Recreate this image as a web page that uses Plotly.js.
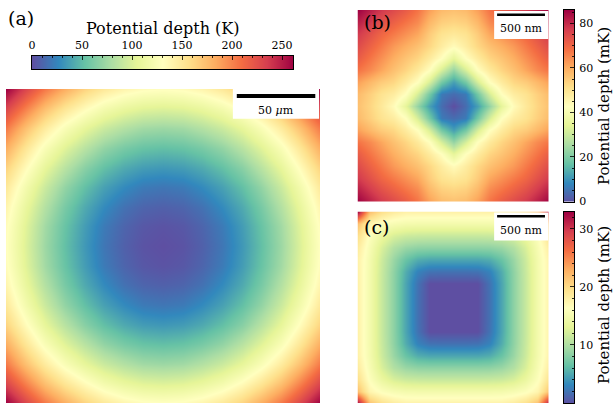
<!DOCTYPE html>
<html>
<head>
<meta charset="utf-8">
<script src="https://cdn.plot.ly/plotly-3.0.1.min.js"></script>
<style>
  html, body { margin: 0; padding: 0; background: #fff; }
  #chart { width: 614px; height: 407px; }
</style>
</head>
<body>
<div id="chart"></div>
<script>
// Sample positions along one half-axis (the rest follows by the fourfold symmetry)
const nodesA = [0, 12.5, 25, 37.5, 50, 62.5, 75, 87.5, 100];        // μm
const nodesBC = [0, 125, 250, 375, 500, 625, 750, 875, 1000];       // nm

// Potential depth on the quadrant nodes: rows = y node, columns = x node
const depthA = [            // K
  [0, 2, 8, 18, 33, 51, 73, 100, 131],
  [2, 4, 10, 20, 35, 53, 75, 102, 133],
  [8, 10, 16, 27, 41, 59, 82, 108, 139],
  [18, 20, 27, 37, 51, 69, 92, 118, 149],
  [33, 35, 41, 51, 65, 84, 106, 133, 163],
  [51, 53, 59, 69, 84, 102, 124, 151, 182],
  [73, 75, 82, 92, 106, 124, 147, 173, 204],
  [100, 102, 108, 118, 133, 151, 173, 200, 230],
  [131, 133, 139, 149, 163, 182, 204, 230, 261]
];
const depthB = [            // mK
  [0, 4.5, 12, 23, 35, 44, 49, 53.5, 57],
  [4.5, 6.5, 19, 32, 43, 48, 50.5, 54.5, 58],
  [12, 19, 32, 43, 48.5, 53, 55, 58.5, 62],
  [23, 32, 43, 49, 53.5, 57, 61, 65, 68],
  [35, 43, 48.5, 53.5, 56.5, 60, 64, 68, 72],
  [44, 48, 53, 57, 60, 63, 67, 71, 75],
  [49, 50.5, 55, 61, 64, 67, 70, 74, 78],
  [53.5, 54.5, 58.5, 65, 68, 71, 74, 78, 82],
  [57, 58, 62, 68, 72, 75, 78, 82, 86]
];
const depthC = [            // mK
  [0, 0, 0, 2, 5, 8.5, 11.5, 15, 18],
  [0, 0, 0, 2, 5, 8.5, 11.5, 15, 18],
  [0, 0, 0, 2.1, 5, 8.5, 11.5, 15, 18],
  [2, 2, 2.1, 3, 5.4, 8.6, 11.6, 15, 18],
  [5, 5, 5, 5.4, 6.8, 9.1, 11.8, 15.1, 18],
  [8.5, 8.5, 8.5, 8.6, 9.1, 10.3, 12.5, 15.5, 18.6],
  [11.5, 11.5, 11.5, 11.6, 11.8, 12.5, 14, 16.2, 19.8],
  [15, 15, 15, 15, 15.1, 15.5, 16.2, 17.6, 22],
  [18, 18, 18, 18, 18, 18.6, 19.8, 22, 33]
];

// Colour-bar ticks
const ticksA = { major: 50, minor: 10 };
const ticksB = { major: 20, minor: 5 };
const ticksC = { major: 10, minor: 2 };

// Scale bars
const scaleA = { length: 50, label: '50 <i>μ</i>m' };
const scaleBC = { length: 500, label: '500 nm' };

// Spectral colormap, reversed (low = violet, high = crimson)
const spectralR = [
  [0.0, '#5e4fa2'], [0.1, '#3288bd'], [0.2, '#66c2a5'], [0.3, '#abdda4'],
  [0.4, '#e6f598'], [0.5, '#ffffbf'], [0.6, '#fee08b'], [0.7, '#fdae61'],
  [0.8, '#f46d43'], [0.9, '#d53e4f'], [1.0, '#9e0142']
];

// ---- build full grids from the quadrant tables ----
function mirrorAxis(n) { return n.slice(1).reverse().map(v => -v).concat(n); }
function mirrorGrid(q) {
  const k = q.length - 1, rows = [];
  for (let r = -k; r <= k; r++) {
    const row = [];
    for (let c = -k; c <= k; c++) row.push(q[Math.abs(r)][Math.abs(c)]);
    rows.push(row);
  }
  return rows;
}
const axA = mirrorAxis(nodesA), axBC = mirrorAxis(nodesBC);
const maxA = Math.max(...depthA.flat());
const maxB = Math.max(...depthB.flat());
const maxC = Math.max(...depthC.flat());

// ---- page geometry (pixels -> paper fractions) ----
const W = 614, H = 407;
const fx = p => p / W;
const fy = p => 1 - p / H;

function mapTrace(z, ax, xa, ya, zmax) {
  return {
    type: 'heatmap', x: ax, y: ax, z: z, xaxis: xa, yaxis: ya,
    colorscale: spectralR, zmin: 0, zmax: zmax, zsmooth: 'best',
    showscale: false, hoverinfo: 'skip'
  };
}
function barTrace(zmax, xa, ya, horizontal) {
  return horizontal
    ? { type: 'heatmap', x: [0, zmax], y: [0, 1], z: [[0, zmax], [0, zmax]],
        xaxis: xa, yaxis: ya, colorscale: spectralR, zmin: 0, zmax: zmax,
        zsmooth: 'best', showscale: false, hoverinfo: 'skip' }
    : { type: 'heatmap', x: [0, 1], y: [0, zmax], z: [[0, 0], [zmax, zmax]],
        xaxis: xa, yaxis: ya, colorscale: spectralR, zmin: 0, zmax: zmax,
        zsmooth: 'best', showscale: false, hoverinfo: 'skip' };
}

const traces = [
  mapTrace(mirrorGrid(depthA), axA, 'x', 'y', maxA),
  mapTrace(mirrorGrid(depthB), axBC, 'x2', 'y2', maxB),
  mapTrace(mirrorGrid(depthC), axBC, 'x3', 'y3', maxC),
  barTrace(maxA, 'x4', 'y4', true),
  barTrace(maxB, 'x5', 'y5', false),
  barTrace(maxC, 'x6', 'y6', false)
];

const hidden = { visible: false, fixedrange: true };
function mapAxes(dx, dy, lim) {
  return [
    Object.assign({ domain: dx, range: [-lim, lim] }, hidden),
    Object.assign({ domain: dy, range: [-lim, lim] }, hidden)
  ];
}
const frame = { showline: true, mirror: true, linecolor: '#000', linewidth: 1,
                showgrid: false, zeroline: false, fixedrange: true };
function tickAxis(extra, t, zmax) {
  return Object.assign({
    range: [0, zmax], tickmode: 'linear', tick0: 0, dtick: t.major,
    ticks: 'inside', ticklen: 4, tickwidth: 0.8, tickcolor: '#000',
    minor: { tickmode: 'linear', tick0: 0, dtick: t.minor, ticks: 'inside',
             ticklen: 2, tickwidth: 0.8, tickcolor: '#000', showgrid: false },
    tickfont: { size: 11, color: '#000' }
  }, frame, extra);
}
const plain = Object.assign({ range: [0, 1], ticks: '', showticklabels: false }, frame);

const [xA, yA] = mapAxes([fx(6), fx(320)], [fy(403), fy(89)], 100);
const [xB, yB] = mapAxes([fx(357.5), fx(549)], [fy(201.5), fy(10)], 1000);
const [xC, yC] = mapAxes([fx(357.5), fx(549)], [fy(403), fy(211.5)], 1000);

function scaleShapes(xr, yr, box, bar, lw) {
  return [
    { type: 'rect', xref: xr, yref: yr, x0: box[0], x1: box[1], y0: box[2], y1: box[3],
      fillcolor: '#fff', line: { width: 0 }, layer: 'above' },
    { type: 'line', xref: xr, yref: yr, x0: bar[0], x1: bar[0] + bar[2], y0: bar[1], y1: bar[1],
      line: { color: '#000', width: lw }, layer: 'above' }
  ];
}
function note(text, x, y, size, extra) {
  return Object.assign({ text: text, x: x, y: y, xref: 'paper', yref: 'paper',
    showarrow: false, xanchor: 'center', yanchor: 'middle',
    font: { size: size, color: '#000' } }, extra || {});
}

const layout = {
  width: W, height: H,
  margin: { l: 0, r: 0, t: 0, b: 0, pad: 0 },
  paper_bgcolor: '#fff', plot_bgcolor: '#fff',
  font: { family: 'DejaVu Serif', color: '#000' },
  showlegend: false,
  xaxis: xA, yaxis: yA, xaxis2: xB, yaxis2: yB, xaxis3: xC, yaxis3: yC,
  xaxis4: tickAxis({ domain: [fx(32), fx(293)], anchor: 'y4', side: 'top', ticklabelstandoff: 2 }, ticksA, maxA),
  yaxis4: Object.assign({ domain: [fy(69), fy(56)], anchor: 'x4' }, plain),
  xaxis5: Object.assign({ domain: [fx(564), fx(574)], anchor: 'y5' }, plain),
  yaxis5: tickAxis({ domain: [fy(201.5), fy(10)], anchor: 'x5', side: 'right', ticklabelstandoff: 2 }, ticksB, maxB),
  xaxis6: Object.assign({ domain: [fx(564), fx(574)], anchor: 'y6' }, plain),
  yaxis6: tickAxis({ domain: [fy(403), fy(211.5)], anchor: 'x6', side: 'right', ticklabelstandoff: 2 }, ticksC, maxC),
  shapes: [].concat(
    scaleShapes('x', 'y', [44.5, 99.4, 81, 100], [47, 95.5, scaleA.length], 4),
    scaleShapes('x2', 'y2', [427, 992, 696, 990], [458, 950, scaleBC.length], 2.5),
    scaleShapes('x3', 'y3', [427, 992, 696, 990], [458, 950, scaleBC.length], 2.5)
  ),
  annotations: [
    note('(a)', fx(21), fy(18), 19),
    note('(b)', fx(377), fy(22), 19),
    note('(c)', fx(376), fy(227), 19),
    note('Potential depth (K)', fx(162.5), fy(28), 16),
    note('Potential depth (mK)', fx(604), fy(106), 15, { textangle: -90 }),
    note('Potential depth (mK)', fx(604), fy(305), 15, { textangle: -90 }),
    note(scaleA.label, 72, 86.5, 11, { xref: 'x', yref: 'y' }),
    note(scaleBC.label, 708, 803, 11, { xref: 'x2', yref: 'y2' }),
    note(scaleBC.label, 708, 803, 11, { xref: 'x3', yref: 'y3' })
  ]
};

Plotly.newPlot('chart', traces, layout, { staticPlot: true, displayModeBar: false });
</script>
</body>
</html>
